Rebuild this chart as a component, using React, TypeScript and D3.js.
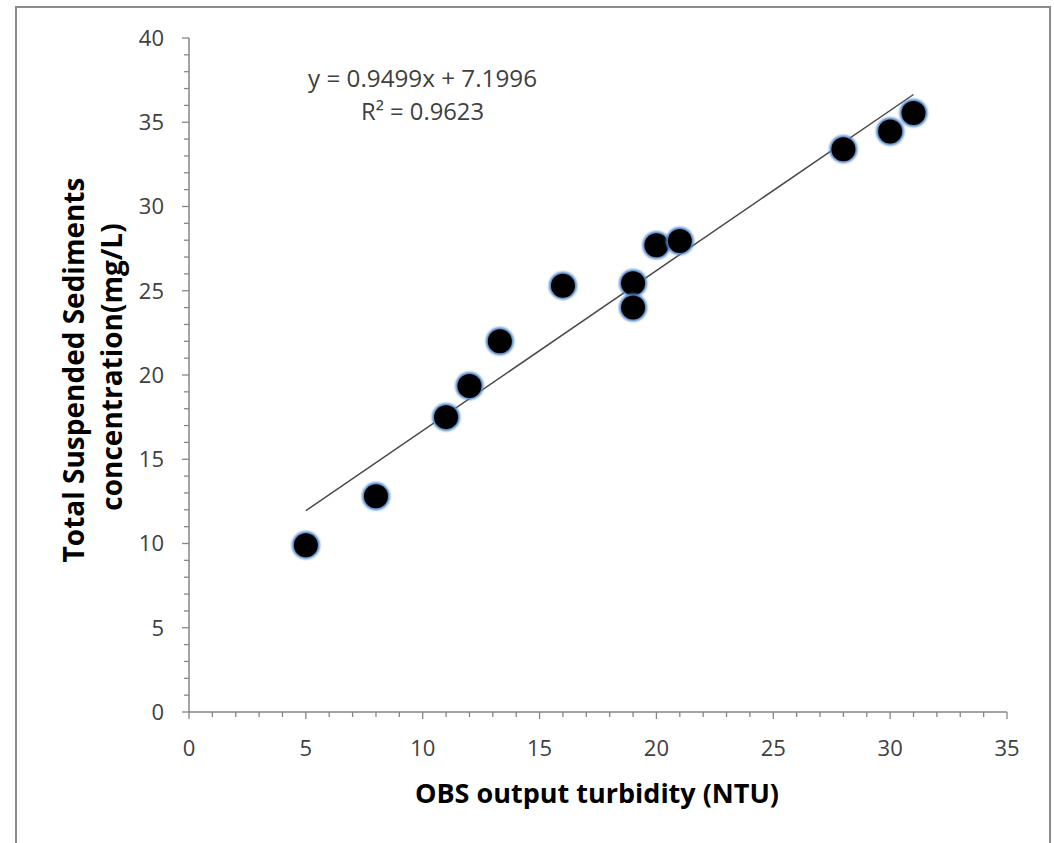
import React from "react";
import * as d3 from "d3";

const turbidity = [5, 8, 11, 12, 13.3, 16, 19, 19, 20, 21, 28, 30, 31];
const tss = [9.9, 12.8, 17.5, 19.35, 22.0, 25.3, 25.45, 24.0, 27.7, 27.95, 33.4, 34.45, 35.55];
const xTicks = [0, 5, 10, 15, 20, 25, 30, 35];
const yTicks = [0, 5, 10, 15, 20, 25, 30, 35, 40];
const slope = 0.9499;
const intercept = 7.1996;
const equationText = "y = 0.9499x + 7.1996";
const r2Text = "R² = 0.9623";
const xTitle = "OBS output turbidity (NTU)";
const yTitleLines = ["Total Suspended Sediments", "concentration(mg/L)"];

const W = 1054;
const H = 843;
const FONT = "'Open Sans', 'Noto Sans', sans-serif";

export default function App() {
  const x = d3.scaleLinear().domain([0, 35]).range([189, 1007]);
  const y = d3.scaleLinear().domain([0, 40]).range([712, 38]);
  const minorX = d3.range(0, 36, 1);
  const minorY = d3.range(0, 41, 1);
  const [xmin, xmax] = d3.extent(turbidity) as [number, number];
  const line = d3.line<number>().x((d) => x(d)).y((d) => y(slope * d + intercept));
  const axisColor = "#868686";
  const labelColor = "#404040";

  return (
    <svg
      width={W}
      height={H}
      style={{ position: "absolute", left: 0, top: 0, background: "#fff" }}
      fontFamily={FONT}
    >
      <defs>
        <filter id="glow" x="-50%" y="-50%" width="200%" height="200%">
          <feGaussianBlur stdDeviation="1.3" />
        </filter>
      </defs>
      <rect x={0} y={0} width={W} height={H} fill="#fff" />
      <rect x={16} y={7} width={1034} height={H + 20} fill="#fff" stroke="#8c8c8c" strokeWidth={2} />

      {/* y axis */}
      <line x1={x(0)} x2={x(0)} y1={y(0)} y2={y(40)} stroke={axisColor} strokeWidth={1.5} />
      {minorY.map((v) => (
        <line key={"my" + v} x1={x(0) - (v % 5 === 0 ? 7 : 5)} x2={x(0)} y1={y(v)} y2={y(v)} stroke={axisColor} strokeWidth={1.3} />
      ))}
      {yTicks.map((v) => (
        <text key={"yt" + v} x={164} y={y(v)} dy="0.36em" textAnchor="end" fontSize={22} fill={labelColor}>
          {v}
        </text>
      ))}

      {/* x axis */}
      <line x1={x(0)} x2={x(35)} y1={y(0)} y2={y(0)} stroke={axisColor} strokeWidth={1.5} />
      {minorX.map((v) => (
        <line key={"mx" + v} x1={x(v)} x2={x(v)} y1={y(0)} y2={y(0) + (v % 5 === 0 ? 7 : 5)} stroke={axisColor} strokeWidth={1.3} />
      ))}
      {xTicks.map((v) => (
        <text key={"xt" + v} x={x(v)} y={756} textAnchor="middle" fontSize={22} fill={labelColor}>
          {v}
        </text>
      ))}

      {/* trendline */}
      <path d={line([xmin, xmax]) || ""} stroke="#4a4a4a" strokeWidth={1.5} fill="none" />

      {/* points */}
      {turbidity.map((tv, i) => (
        <g key={"p" + i}>
          <circle cx={x(tv)} cy={y(tss[i])} r={14} fill="#4f86c8" filter="url(#glow)" />
          <circle cx={x(tv)} cy={y(tss[i])} r={12} fill="#000" />
        </g>
      ))}

      {/* equation */}
      <text x={308} y={87} fontSize={23} fill={labelColor} textLength={229} lengthAdjust="spacingAndGlyphs">
        {equationText}
      </text>
      <text x={361} y={120} fontSize={23} fill={labelColor} textLength={123} lengthAdjust="spacingAndGlyphs">
        {r2Text}
      </text>

      {/* axis titles */}
      <text x={597} y={803} textAnchor="middle" fontSize={27} fontWeight="bold" fill="#000">
        {xTitle}
      </text>
      <text transform="translate(84,370) rotate(-90)" textAnchor="middle" fontSize={28} fontWeight="bold" fill="#000">
        {yTitleLines[0]}
      </text>
      <text transform="translate(122,367) rotate(-90)" textAnchor="middle" fontSize={28} fontWeight="bold" fill="#000">
        {yTitleLines[1]}
      </text>
    </svg>
  );
}
